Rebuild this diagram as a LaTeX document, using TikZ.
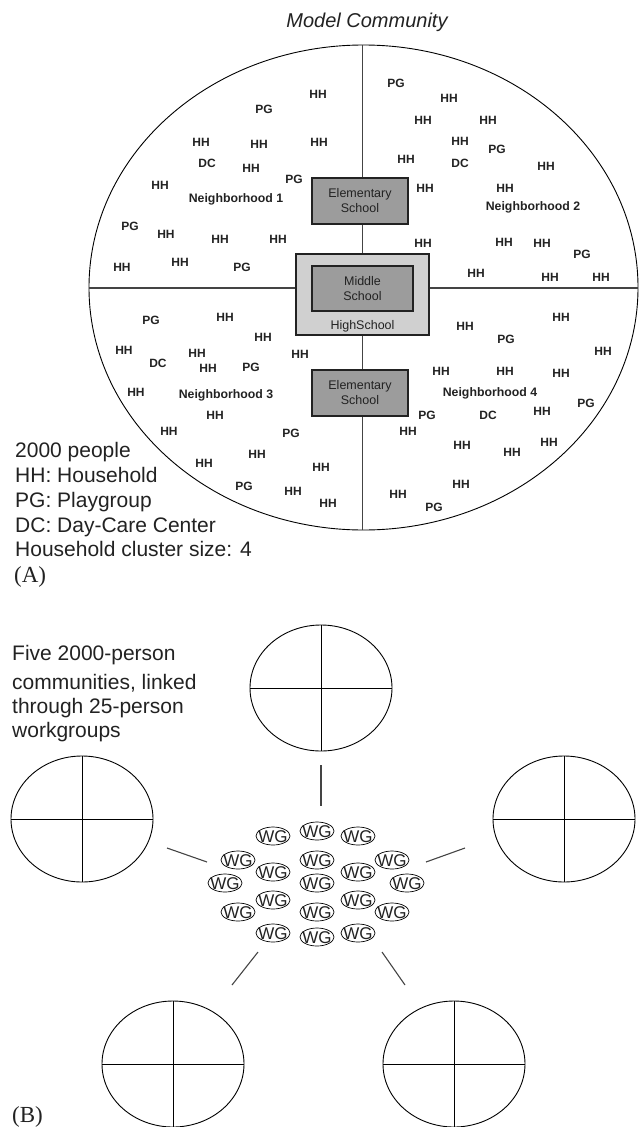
\documentclass[tikz,border=0pt]{standalone}
\usepackage{fontspec}
\setmainfont{Liberation Sans}
\newfontfamily\serifA{Liberation Serif}
\usetikzlibrary{shapes.geometric}
\definecolor{boxgray}{HTML}{9C9C9C}
\definecolor{lightbox}{HTML}{D0D0D0}
\definecolor{ink}{HTML}{222222}
\definecolor{lineg}{HTML}{444444}
\tikzset{
  lbl/.style={font=\fontsize{12}{12}\selectfont\bfseries, text=ink, inner sep=0pt, text height=8.6pt, text depth=0pt},
  nbh/.style={font=\fontsize{12.3}{12}\selectfont\bfseries, text=ink, inner sep=0pt, text height=8.8pt, text depth=0pt},
  schoolbox/.style={draw=ink, line width=1.1pt, fill=boxgray, minimum width=96pt, minimum height=46pt, inner sep=0pt, align=center, font=\fontsize{12.5}{15}\selectfont, text=ink},
  hsbox/.style={draw=ink, line width=1.1pt, fill=lightbox, minimum width=133pt, minimum height=81pt, inner sep=0pt},
  legend/.style={anchor=west, font=\fontsize{21}{21}\selectfont, text=ink, inner sep=0pt, text height=15pt, text depth=0pt},
  paneltag/.style={anchor=west, font=\serifA\fontsize{23}{23}\selectfont, text=ink, inner sep=0pt, text height=15pt, text depth=0pt},
  wg/.style={ellipse, draw=black, line width=0.7pt, inner xsep=-3pt, inner ysep=-3pt, minimum width=34pt, minimum height=18pt, font=\fontsize{17}{17}\selectfont, text=ink, text height=12pt, text depth=0pt},
  quad/.style={draw=lineg, line width=1.2pt},
  rim/.style={draw=black, line width=0.9pt},
  link/.style={draw=lineg, line width=1.1pt}
}
\begin{document}
\begin{tikzpicture}[x=1pt,y=-1pt]
\useasboundingbox (0,0) rectangle (642,1127);

% ---------- Panel A ----------
\node[font=\itshape\fontsize{20}{20}\selectfont, text=ink, inner sep=0pt] (title) at (367,22) {Model Community};

\coordinate (ctr) at (363.5,287.5);
\draw[rim] (ctr) ellipse [x radius=274.5, y radius=242.5];

\node[hsbox] (hs) at (362.5,294.5) {};
\node[schoolbox, minimum width=101pt, minimum height=45pt] (ms) at (362.5,288.5) {Middle\\School};
\node[font=\fontsize{12.5}{15}\selectfont, text=ink, inner sep=0pt] (hslbl) at (362.5,326) {HighSchool};
\node[schoolbox] (e1) at (360,201) {Elementary\\School};
\node[schoolbox] (e2) at (360,393) {Elementary\\School};

\coordinate (T) at (362.5,45);
\coordinate (B) at (362.5,530);
\coordinate (L) at (89,288);
\coordinate (R) at (638,288);
\draw[quad] (T) -- (T |- e1.north);
\draw[quad] (T |- e1.south) -- (T |- hs.north);
\draw[quad] (T |- hs.south) -- (T |- e2.north);
\draw[quad] (T |- e2.south) -- (B);
\draw[quad] (L) -- (L -| hs.west);
\draw[quad] (R -| hs.east) -- (R);

\foreach \x/\y/\t [count=\i] in {
 318/94/HH, 264/109/PG, 201/142/HH, 259/144/HH, 319/142/HH, 207/163/DC, 251/168/HH, 294/179/PG, 160/185/HH, 130/226/PG, 166/234/HH, 220/239/HH, 278/239/HH, 122/267/HH, 180/262/HH, 242/267/PG,
 396/83/PG, 449/98/HH, 423/120/HH, 488/120/HH, 460/141/HH, 497/149/PG, 406/159/HH, 460/163/DC, 546/166/HH, 425/188/HH, 505/188/HH, 423/243/HH, 504/242/HH, 542/243/HH, 582/254/PG, 476/273/HH, 550/277/HH, 601/277/HH,
 151/320/PG, 225/317/HH, 263/337/HH, 124/350/HH, 158/363/DC, 197/353/HH, 208/368/HH, 251/367/PG, 300/354/HH, 136/392/HH, 215/415/HH, 169/431/HH, 291/433/PG, 257/454/HH, 204/463/HH, 321/467/HH, 244/486/PG, 293/491/HH, 328/503/HH,
 561/317/HH, 465/326/HH, 506/339/PG, 603/351/HH, 441/371/HH, 505/371/HH, 561/373/HH, 586/403/PG, 542/411/HH, 427/415/PG, 488/415/DC, 549/442/HH, 408/431/HH, 462/445/HH, 512/452/HH, 461/484/HH, 398/494/HH, 434/507/PG}
 \node[lbl] (u\i) at (\x,\y) {\t};

\node[nbh] (n1) at (236,198) {Neighborhood 1};
\node[nbh] (n2) at (533,206) {Neighborhood 2};
\node[nbh] (n3) at (226,394) {Neighborhood 3};
\node[nbh] (n4) at (490,392) {Neighborhood 4};

\node[legend] (lg1) at (15,450) {2000 people};
\node[legend] (lg2) at (15,475) {HH: Household};
\node[legend] (lg3) at (15,500) {PG: Playgroup};
\node[legend] (lg4) at (15,525) {DC: Day-Care Center};
\node[legend] (lg5) at (15,549) {Household cluster size: 4};
\node[paneltag] (tagA) at (14,575) {(A)};

% ---------- Panel B ----------
\node[legend] (f1) at (12,653) {Five 2000-person};
\node[legend] (f2) at (12,682) {communities, linked};
\node[legend] (f3) at (12,706) {through 25-person};
\node[legend] (f4) at (12,730) {workgroups};
\node[paneltag] (tagB) at (12,1115) {(B)};

\foreach \cx/\cy [count=\k] in {321/688, 82/819, 564/819, 173/1064, 454/1064} {
  \coordinate (c\k) at (\cx,\cy);
  \draw[rim] (c\k) ellipse [x radius=71, y radius=63];
  \draw[draw=black, line width=0.9pt] ([xshift=-71pt]c\k) -- ([xshift=71pt]c\k);
  \draw[draw=black, line width=0.9pt] ([yshift=63pt]c\k) -- ([yshift=-63pt]c\k);
}

\foreach \x/\y [count=\j] in {273/836, 317/831, 358/836, 238/860, 317/860, 392/860, 273/872, 358/872, 225/883, 317/883, 407/883, 273/900, 358/900, 238/912, 317/912, 392/912, 273/933, 317/937, 358/933}
  \node[wg] (w\j) at (\x,\y) {WG};

\coordinate (a1) at (321,765); \coordinate (a2) at (321,806);
\coordinate (b1) at (167,848); \coordinate (b2) at (207,862);
\coordinate (d1) at (426,862); \coordinate (d2) at (465,848);
\coordinate (g1) at (232,985); \coordinate (g2) at (258,952);
\coordinate (h1) at (382,952); \coordinate (h2) at (405,985);
\draw[link] (a1) -- (a2);
\draw[link] (b1) -- (b2);
\draw[link] (d1) -- (d2);
\draw[link] (g1) -- (g2);
\draw[link] (h1) -- (h2);
\end{tikzpicture}
\end{document}
